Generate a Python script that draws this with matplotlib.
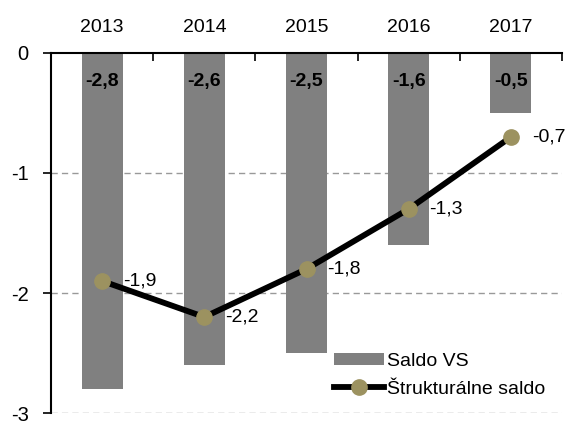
import matplotlib.pyplot as plt
import numpy as np

plt.rcParams['font.family'] = ['Liberation Sans', 'DejaVu Sans']

# rocne hodnoty salda (% HDP)
years = ['2013', '2014', '2015', '2016', '2017']
saldo_vs = [-2.8, -2.6, -2.5, -1.6, -0.5]
strukturalne = [-1.9, -2.2, -1.8, -1.3, -0.7]

x = np.arange(len(years))

fig = plt.figure(figsize=(5.65, 4.26), dpi=100)
ax = fig.add_axes([0.0903, 0.0305, 0.9044, 0.8451])

bars = ax.bar(x, saldo_vs, width=0.4, color='#808080', label='Saldo VS', zorder=2)
line, = ax.plot(x, strukturalne, color='black', lw=4.2, marker='o', markersize=11,
                markerfacecolor='#9c9260', markeredgecolor='#9c9260',
                label='Štrukturálne saldo', zorder=3)

# hodnoty stlpcov (tucne, pod nulovou osou)
for xi, v in zip(x, saldo_vs):
    ax.text(xi, -0.235, f'{v:.1f}'.replace('.', ','), ha='center', va='center',
            fontsize=14, fontweight='bold', zorder=4)

# hodnoty ciary
for xi, v in zip(x, strukturalne):
    ax.annotate(f'{v:.1f}'.replace('.', ','), (xi, v), xytext=(15, 0),
                textcoords='offset points', ha='left', va='center', fontsize=14)

ax.set_xlim(-0.5, len(years) - 0.5)
ax.set_ylim(-3, 0)
ax.set_yticks([0, -1, -2, -3])
ax.set_yticklabels(['0', '-1', '-2', '-3'], fontsize=14.5)

for yv in [-1, -2, -3]:
    ax.axhline(yv, color='#999999', lw=1, ls=(0, (4.5, 3)), zorder=1)

# roky hore, ciarky medzi kategoriami
ax.xaxis.tick_top()
ax.set_xticks(x)
ax.set_xticklabels(years, fontsize=14)
ax.tick_params(axis='x', which='major', length=0, pad=12)
ax.set_xticks(np.arange(0.5, len(years)), minor=True)
ax.tick_params(axis='x', which='minor', direction='in', length=6, width=1.2, top=True)
ax.tick_params(axis='y', direction='out', length=6, width=1.2, pad=10)

ax.spines['bottom'].set_visible(False)
ax.spines['right'].set_visible(False)
ax.spines['top'].set_linewidth(1.5)
ax.spines['left'].set_linewidth(1.5)

ax.legend([bars, line], ['Saldo VS', 'Štrukturálne saldo'],
          loc='lower right', bbox_to_anchor=(0.99, 0.01), frameon=False,
          fontsize=14, handlelength=2.6, handleheight=0.55, handletextpad=0.15,
          labelspacing=0.55, borderaxespad=0.2)

plt.savefig('out.png', dpi=100)
